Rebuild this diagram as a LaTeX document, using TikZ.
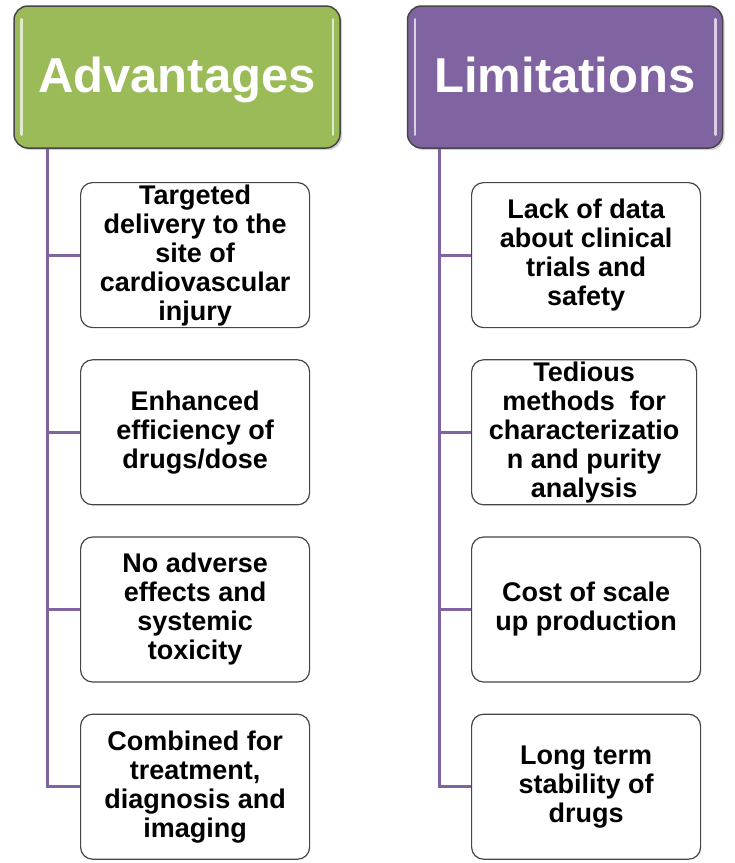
\documentclass[tikz,border=0pt]{standalone}
\usepackage{fontspec}
\setmainfont{Liberation Sans}
\usetikzlibrary{positioning, shadows}

\definecolor{headgreen}{RGB}{155,187,89}
\definecolor{headpurple}{RGB}{128,100,162}
\definecolor{edgegray}{RGB}{70,70,70}

\begin{document}
\begin{tikzpicture}[
            x = 1pt, y = -1pt, % pixel units, y going down
            node distance = 31pt, % gap between boxes
            semithick % line style
        ]

        \tikzstyle{header}=[
            draw = edgegray,
            line width = 1.5pt,
            rounded corners = 14pt,
            minimum height = 142pt,
            text = white,
            text height = 35pt,
            text depth = 5pt,
            font = \bfseries\fontsize{49}{56}\selectfont,
            drop shadow = {shadow xshift=2pt, shadow yshift=-2pt, opacity=0.35}
        ]
        \tikzstyle{item}=[
            draw = edgegray,
            fill = white,
            line width = 1.2pt,
            rounded corners = 12pt,
            minimum width = 229pt,
            minimum height = 145pt,
            inner xsep = 2pt,
            inner ysep = 0pt,
            align = center,
            font = \bfseries\fontsize{27}{29}\selectfont
        ]
        \tikzstyle{branch}=[draw = headpurple, line width = 3pt]
        \tikzstyle{gloss}=[white, opacity = 0.7, line width = 2.5pt, line cap = round]

        \useasboundingbox (0,0) rectangle (735,863);

        % headers
        \node[header, fill=headgreen, minimum width=326pt] (adv) at (177,77) {Advantages};
        \node[header, fill=headpurple, minimum width=315pt] (lim) at (565,77) {Limitations};

        \foreach \h in {adv, lim} {
            \draw[gloss] ([xshift=8pt, yshift=-14pt]\h.north west) -- ([xshift=8pt, yshift=14pt]\h.south west);
            \draw[gloss] ([xshift=-8pt, yshift=-14pt]\h.north east) -- ([xshift=-8pt, yshift=14pt]\h.south east);
        }

        % advantages
        \node[item, anchor=north west] (a1) at (80,182) {Targeted\\delivery to the\\site of\\cardiovascular\\injury};
        \node[item] (a2) [below=of a1] {Enhanced\\efficiency of\\drugs/dose};
        \node[item] (a3) [below=of a2] {No adverse\\effects and\\systemic\\toxicity};
        \node[item] (a4) [below=of a3] {Combined for\\treatment,\\diagnosis and\\imaging};

        % limitations
        \node[item, anchor=north west] (l1) at (471,182) {Lack of data\\about clinical\\trials and\\safety};
        \node[item, minimum width=225pt] (l2) [below=of l1.south west, anchor=north west] {Tedious\\methods\ \ for\\characterizatio\\n and purity\\analysis};
        \node[item] (l3) [below=of l2.south west, anchor=north west] {Cost of scale\\up production};
        \node[item] (l4) [below=of l3] {Long term\\stability of\\drugs};

        % trunks and branches
        \coordinate (atrunk) at ([xshift=34pt]adv.south west);
        \coordinate (ltrunk) at ([xshift=33pt]lim.south west);

        \draw[branch] (atrunk) |- (a4.west);
        \draw[branch] (ltrunk) |- (l4.west);
        \foreach \i in {1,2,3} {
            \draw[branch] (a\i.west) -- (a\i.west -| atrunk);
            \draw[branch] (l\i.west) -- (l\i.west -| ltrunk);
        }

  \end{tikzpicture}
\end{document}
